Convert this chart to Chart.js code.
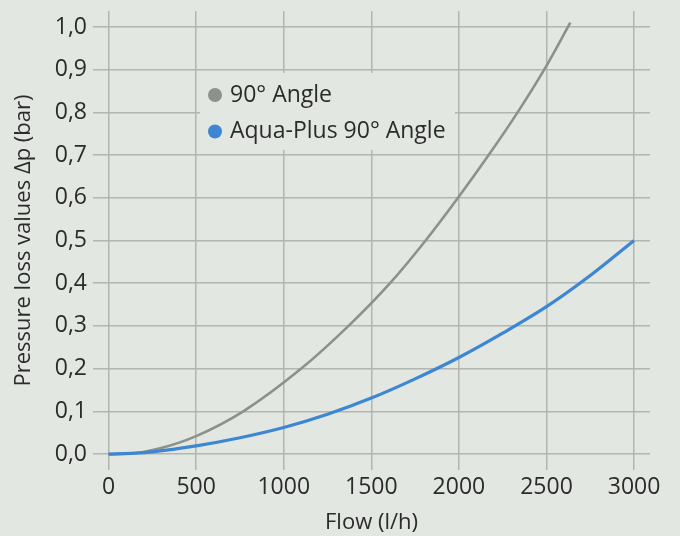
<!DOCTYPE html>
<html>
<head>
<meta charset="utf-8">
<script src="https://cdn.jsdelivr.net/npm/chart.js@4/dist/chart.umd.min.js"></script>
<style>
    html, body {
        margin: 0;
        padding: 0;
        background: #e3e7e2;
    }
    #wrap {
        position: relative;
        width: 680px;
        height: 536px;
    }
</style>
</head>
<body>
<div id="wrap">
    <canvas id="pressureChart"></canvas>
</div>
<script>
// Flow (l/h) against pressure loss (bar) for the two fittings
const flowTicks = [0, 500, 1000, 1500, 2000, 2500, 3000];
const pressureTicks = [0, 0.1, 0.2, 0.3, 0.4, 0.5, 0.6, 0.7, 0.8, 0.9, 1.0];

const angleFlow = [0, 150, 300, 500, 769, 1100, 1370, 1607, 1810, 1995, 2170, 2335, 2487, 2636];
const angleLoss = [0, 0.002, 0.014, 0.042, 0.1, 0.2, 0.3, 0.4, 0.5, 0.6, 0.7, 0.8, 0.9, 1.01];

const aquaFlow = [0, 150, 250, 500, 750, 1000, 1250, 1500, 1750, 2000, 2250, 2500, 2750, 3000];
const aquaLoss = [0, 0.002, 0.005, 0.019, 0.038, 0.062, 0.093, 0.131, 0.176, 0.226, 0.283, 0.345, 0.418, 0.5];

const seriesLabels = ['90° Angle', 'Aqua-Plus 90° Angle'];

const BG = '#e3e7e2';
const GRID = '#b2b6b0';
const TEXT = '#2b2b2b';
const FONT = "'Open Sans'";

function toPoints(xs, ys) {
    return xs.map((x, i) => ({ x: x, y: ys[i] }));
}

// Legend drawn inside the plot, on a plain box that hides the grid behind it
const innerLegend = {
    id: 'innerLegend',
    afterDatasetsDraw(chart) {
        const ctx = chart.ctx;
        ctx.save();
        ctx.fillStyle = BG;
        ctx.fillRect(200, 73, 255, 77);

        ctx.font = '23px ' + FONT;
        ctx.textBaseline = 'middle';
        chart.data.datasets.forEach((ds, i) => {
            const cy = 95 + i * 36.5;
            ctx.beginPath();
            ctx.arc(215, cy, 7, 0, Math.PI * 2);
            ctx.fillStyle = ds.borderColor;
            ctx.fill();
            ctx.fillStyle = TEXT;
            ctx.fillText(ds.label, 230, cy);
        });
        ctx.restore();
    }
};

const pressureCtx = document.getElementById('pressureChart').getContext('2d');

new Chart(pressureCtx, {
    type: 'line',
    data: {
        datasets: [{
            label: seriesLabels[0],
            data: toPoints(angleFlow, angleLoss),
            borderColor: '#8c918b',
            borderWidth: 2.6,
            pointRadius: 0,
            cubicInterpolationMode: 'monotone',
            order: 1
        }, {
            label: seriesLabels[1],
            data: toPoints(aquaFlow, aquaLoss),
            borderColor: '#3d87d2',
            borderWidth: 3.2,
            pointRadius: 0,
            cubicInterpolationMode: 'monotone',
            order: 0
        }]
    },
    options: {
        responsive: true,
        maintainAspectRatio: false,
        animation: false,
        layout: {
            padding: { left: 0, right: 30, top: 11, bottom: 0 }
        },
        plugins: {
            legend: { display: false },
            tooltip: { enabled: false }
        },
        scales: {
            x: {
                type: 'linear',
                min: -89,
                max: 3091,
                afterBuildTicks: (scale) => {
                    scale.ticks = flowTicks.map(v => ({ value: v }));
                },
                afterFit: (scale) => {
                    scale.height = 66;
                    scale.paddingLeft = 0;
                    scale.paddingRight = 0;
                },
                border: { display: false },
                grid: {
                    color: GRID,
                    lineWidth: 1.5,
                    drawTicks: false
                },
                ticks: {
                    padding: 4,
                    color: TEXT,
                    font: { family: FONT, size: 23 },
                    maxRotation: 0,
                    callback: (value) => String(value)
                },
                title: {
                    display: true,
                    text: 'Flow (l/h)',
                    color: TEXT,
                    font: { family: FONT, size: 22 },
                    padding: { top: 0, bottom: 0 }
                }
            },
            y: {
                type: 'linear',
                min: -0.0374,
                max: 1.0374,
                afterBuildTicks: (scale) => {
                    scale.ticks = pressureTicks.map(v => ({ value: v }));
                },
                afterFit: (scale) => {
                    scale.width = 93;
                    scale.paddingTop = 0;
                    scale.paddingBottom = 0;
                },
                border: { display: false },
                grid: {
                    color: GRID,
                    lineWidth: 1.5,
                    drawTicks: false
                },
                ticks: {
                    padding: 6,
                    color: TEXT,
                    font: { family: FONT, size: 23 },
                    callback: (value) => value.toFixed(1).replace('.', ',')
                },
                title: {
                    display: true,
                    text: 'Pressure loss values Δp (bar)',
                    color: TEXT,
                    font: { family: FONT, size: 22 },
                    padding: { top: 11, bottom: 0 }
                }
            }
        }
    },
    plugins: [innerLegend]
});
</script>
</body>
</html>
